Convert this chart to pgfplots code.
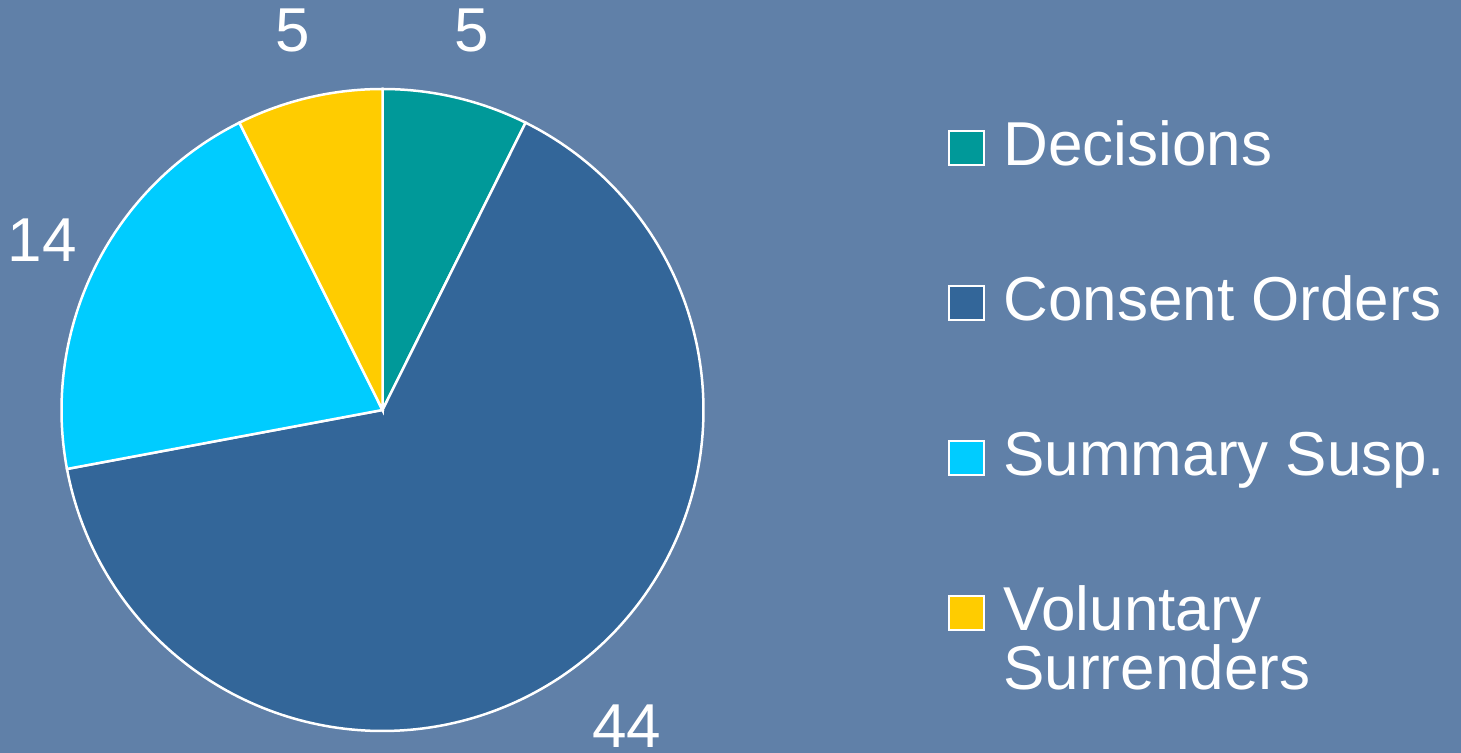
\documentclass[border=0pt]{standalone}
\usepackage{pgfplots}
\pgfplotsset{compat=1.18}
\usepackage{pgfplotstable}
\usepackage{fontspec}
\setmainfont{Liberation Sans}
\definecolor{bgc}{RGB}{96,128,168}
\definecolor{cDec}{RGB}{0,153,153}
\definecolor{cCon}{RGB}{51,102,153}
\definecolor{cSum}{RGB}{0,204,255}
\definecolor{cVol}{RGB}{255,204,0}
\pgfplotstableread{
label value
Decisions 5
Consent 44
Summary 14
Voluntary 5
}\piedata
\begin{document}
\begin{tikzpicture}
\fill[bgc] (0,0) rectangle (1461bp,753bp);
\pgfplotstablegetelem{0}{value}\of\piedata \pgfmathtruncatemacro\vA{\pgfplotsretval}
\pgfplotstablegetelem{1}{value}\of\piedata \pgfmathtruncatemacro\vB{\pgfplotsretval}
\pgfplotstablegetelem{2}{value}\of\piedata \pgfmathtruncatemacro\vC{\pgfplotsretval}
\pgfplotstablegetelem{3}{value}\of\piedata \pgfmathtruncatemacro\vD{\pgfplotsretval}
\pgfmathsetmacro\tot{\vA+\vB+\vC+\vD}
\pgfmathsetmacro\aA{90}
\pgfmathsetmacro\aB{\aA-360*\vA/\tot}
\pgfmathsetmacro\aC{\aB-360*\vB/\tot}
\pgfmathsetmacro\aD{\aC-360*\vC/\tot}
\pgfmathsetmacro\aE{\aD-360*\vD/\tot}
\def\cx{382.5}\def\cy{343}\def\rr{321}\def\rl{390}
\begin{axis}[
  scale only axis, width=1461bp, height=753bp,
  xmin=0, xmax=1461, ymin=0, ymax=753,
  hide axis, clip=false,
  legend image code/.code={\draw[#1, line width=1.5bp] (0bp,1bp) rectangle (35bp,35bp);},
  legend style={at={(axis cs:948,633)}, anchor=north west, draw=none, fill=none,
    inner sep=0pt, outer sep=0pt, row sep=97bp, column sep=19bp,
    text=white, font=\fontsize{62bp}{56bp}\selectfont,
    cells={anchor=base west},
    nodes={inner sep=0pt, text height=46bp, text depth=12bp}},
]
\addplot[fill=cDec, draw=white, line width=2.5bp, domain=\aB:\aA, samples=60, variable=\t]
  ({\cx+\rr*cos(\t)},{\cy+\rr*sin(\t)}) -- (axis cs:\cx,\cy) -- cycle;
\addlegendentry{Decisions}
\addplot[fill=cCon, draw=white, line width=2.5bp, domain=\aC:\aB, samples=200, variable=\t]
  ({\cx+\rr*cos(\t)},{\cy+\rr*sin(\t)}) -- (axis cs:\cx,\cy) -- cycle;
\addlegendentry{Consent Orders}
\addplot[fill=cSum, draw=white, line width=2.5bp, domain=\aD:\aC, samples=80, variable=\t]
  ({\cx+\rr*cos(\t)},{\cy+\rr*sin(\t)}) -- (axis cs:\cx,\cy) -- cycle;
\addlegendentry{Summary Susp.}
\addplot[fill=cVol, draw=white, line width=2.5bp, domain=\aE:\aD, samples=60, variable=\t]
  ({\cx+\rr*cos(\t)},{\cy+\rr*sin(\t)}) -- (axis cs:\cx,\cy) -- cycle;
\addlegendentry{\vtop{\hbox{Voluntary}\hbox{Surrenders}}}
\pgfmathsetmacro\mA{(\aA+\aB)/2}
\pgfmathsetmacro\mC{(\aC+\aD)/2}
\pgfmathsetmacro\mD{(\aD+\aE)/2}
\node[text=white, font=\fontsize{62bp}{62bp}\selectfont] at (axis cs:{\cx+\rl*cos(\mA)},{\cy+\rl*sin(\mA)}) {\vA};
\node[text=white, font=\fontsize{62bp}{62bp}\selectfont, anchor=base, inner sep=0pt] at (axis cs:627,6) {\vB};
\node[text=white, font=\fontsize{62bp}{62bp}\selectfont] at (axis cs:{\cx+380*cos(\mC)},{\cy+380*sin(\mC)}) {\vC};
\node[text=white, font=\fontsize{62bp}{62bp}\selectfont] at (axis cs:{\cx+\rl*cos(\mD)},{\cy+\rl*sin(\mD)}) {\vD};
\end{axis}
\pgfresetboundingbox
\useasboundingbox (0,0) rectangle (1461bp,753bp);
\end{tikzpicture}
\end{document}
